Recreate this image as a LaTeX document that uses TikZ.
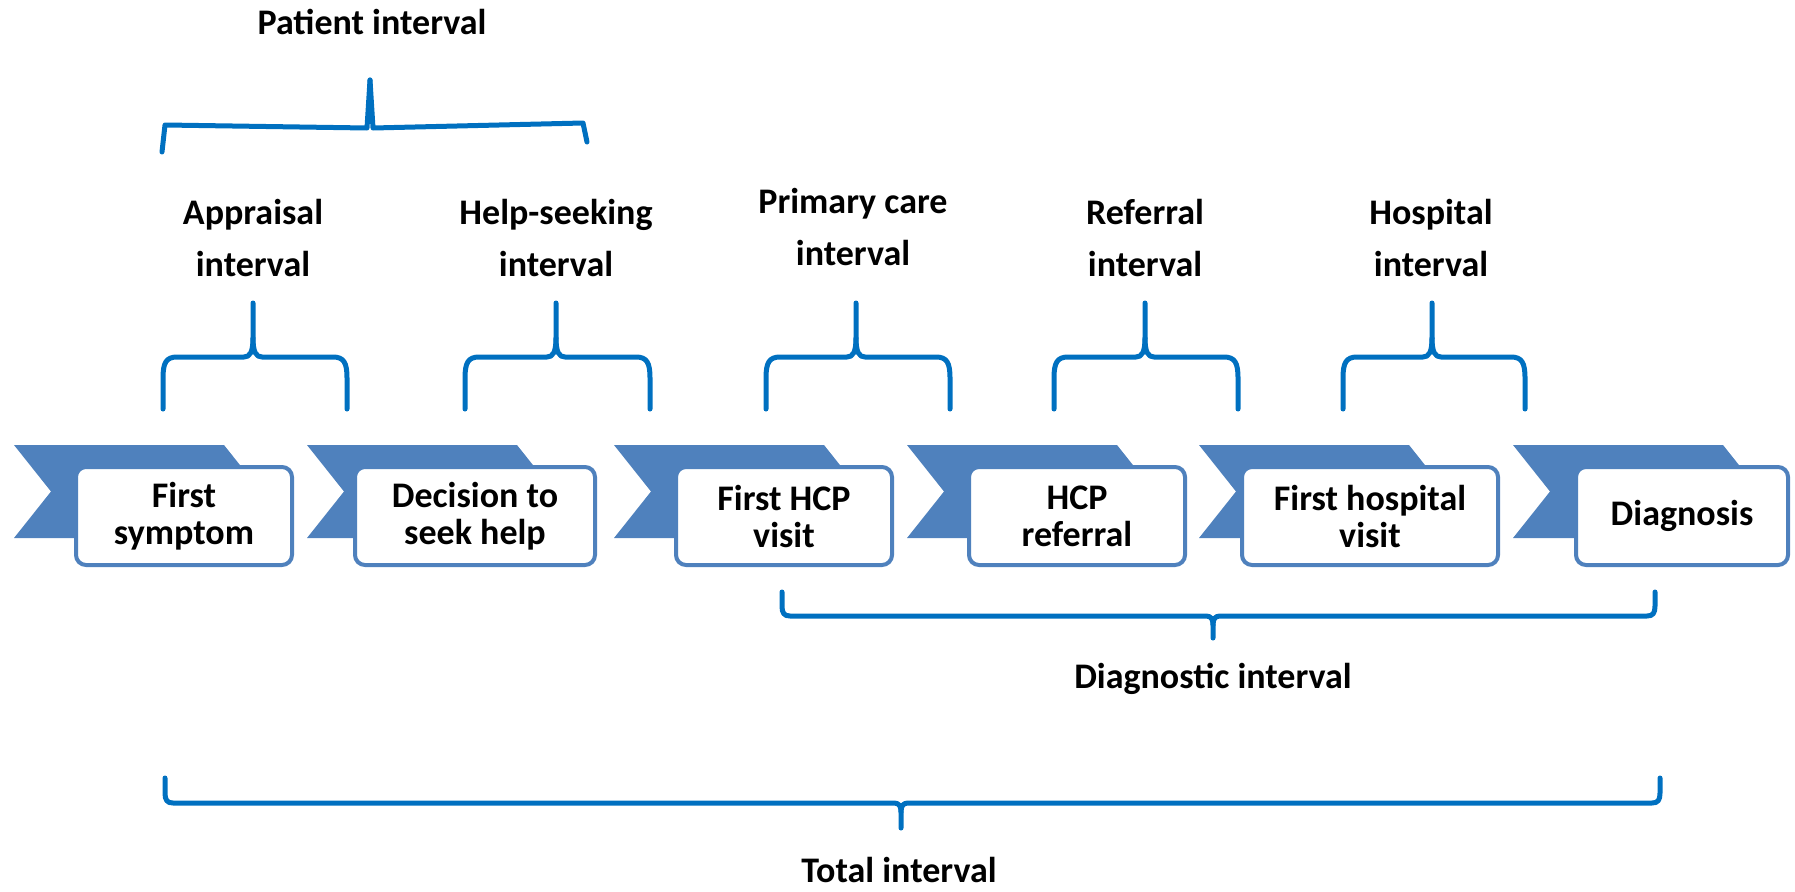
\documentclass[tikz,border=0pt]{standalone}
\usepackage{fontspec}
\setmainfont{Carlito}
\definecolor{chev}{RGB}{79,129,189}
\definecolor{brc}{RGB}{0,112,192}
\tikzset{
 brace/.style={draw=brc, line width=5pt, line cap=round, line join=round},
 stepbox/.style={draw=chev, line width=4pt, fill=white, rounded corners=10pt, inner sep=0pt, minimum height=98pt, align=center, font=\bfseries\fontsize{36}{37}\selectfont},
 lbl/.style={align=center, inner sep=0pt, font=\bfseries\fontsize{36}{52}\selectfont},
 chevshape/.style={fill=chev, draw=none},
}
\newcommand\chevronat[1]{\path[chevshape] (#1,445) -- (#1+210,445) -- (#1+247,491.5) -- (#1+210,538) -- (#1,538) -- (#1+37,491.5) -- cycle;}
\newcommand\upbrace[3]{%
 \draw[brace] (#1,409) -- (#1,378) .. controls (#1,363) and (#1+3,357) .. (#1+14,357) -- (#2-9,357) .. controls (#2-3,357) and (#2,352) .. (#2,338) -- (#2,303);
 \draw[brace] (#2,338) .. controls (#2,352) and (#2+3,357) .. (#2+9,357) -- (#3-14,357) .. controls (#3-3,357) and (#3,363) .. (#3,378) -- (#3,409);}
\newcommand\downbrace[6]{% L, P, R, ytop, yh, ybottom
 \draw[brace] (#1,#4) -- (#1,#5-10) .. controls (#1,#5-3) and (#1+2,#5) .. (#1+8,#5) -- (#2-7,#5) .. controls (#2-2,#5) and (#2,#5+3) .. (#2,#5+9) -- (#2,#6);
 \draw[brace] (#2,#5+9) .. controls (#2,#5+3) and (#2+2,#5) .. (#2+7,#5) -- (#3-8,#5) .. controls (#3-2,#5) and (#3,#5-3) .. (#3,#5-10) -- (#3,#4);}
\begin{document}
\begin{tikzpicture}[x=1pt,y=-1pt]
\useasboundingbox (0,0) rectangle (1795,891);
% chevrons
\chevronat{14}
\chevronat{307}
\chevronat{614}
\chevronat{907}
\chevronat{1199}
\chevronat{1513}
% boxes
\node[stepbox, minimum width=216pt] (b1) at (184,516) {First\\symptom};
\node[stepbox, minimum width=240pt] (b2) at (475,516) {Decision to\\seek help};
\node[stepbox, minimum width=216pt] (b3) at (784,516) {First HCP\\visit};
\node[stepbox, minimum width=216pt] (b4) at (1077,516) {HCP\\referral};
\node[stepbox, minimum width=256pt] (b5) at (1370,516) {First hospital\\visit};
\node[stepbox, minimum width=212pt] (b6) at (1682,516) {Diagnosis};
% small braces
\upbrace{163}{253}{347}
\upbrace{465}{556}{650}
\upbrace{766}{856}{950}
\upbrace{1054}{1145}{1238}
\upbrace{1343}{1432}{1525}
% interval labels (base = baseline of last line)
\node[lbl, anchor=base] (l1) at (253,276) {Appraisal\\interval};
\node[lbl, anchor=base] (l2) at (556,276) {Help-seeking\\interval};
\node[lbl, anchor=base] (l3) at (853,265) {Primary care\\interval};
\node[lbl, anchor=base] (l4) at (1145,276) {Referral\\interval};
\node[lbl, anchor=base] (l5) at (1431,276) {Hospital\\interval};
% patient brace
\draw[brace] (162,152) -- (165,125) -- (367,128) -- (370,80);
\draw[brace] (370,80) -- (373,128) -- (583,123) -- (587,142);
\node[lbl, anchor=base] (pi) at (372,35) {Patient interval};
% diagnostic brace
\downbrace{782}{1213}{1655}{592}{616}{638}
\node[lbl, anchor=base] (di) at (1213,688) {Diagnostic interval};
% total brace
\downbrace{165}{901}{1660}{778}{803}{828}
\node[lbl, anchor=base] (ti) at (899,882) {Total interval};
\end{tikzpicture}
\end{document}
